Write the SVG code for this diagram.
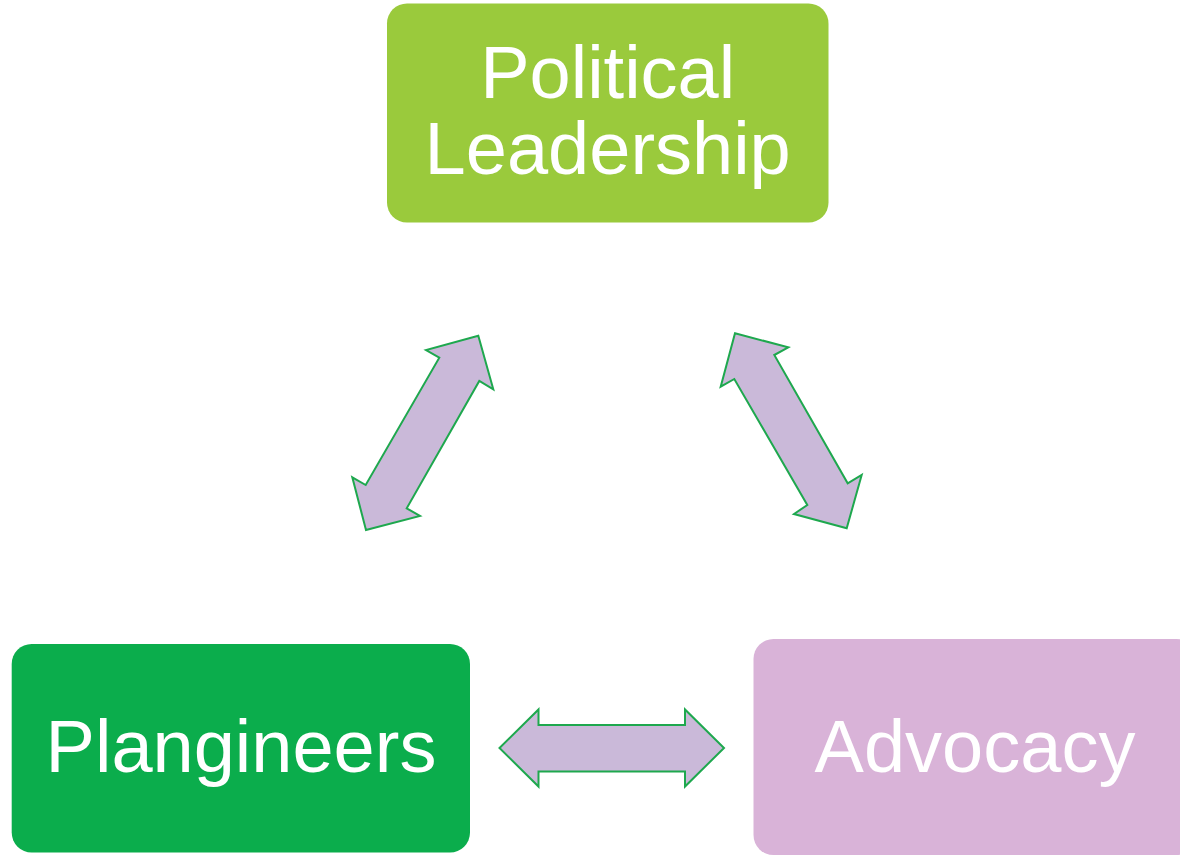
<svg xmlns="http://www.w3.org/2000/svg" width="1180" height="856" viewBox="0 0 1180 856">
<style>
.lbl{font-family:"Liberation Sans",Arial,sans-serif;font-size:74px;fill:#ffffff;text-anchor:middle}
.arr{fill:#CAB9D9;stroke:#1EA84E;stroke-width:2;stroke-linejoin:miter}
</style>
<rect width="1180" height="856" fill="#ffffff"/>
<g id="political-leadership">
<rect x="387" y="3.5" width="441.5" height="219" rx="20" fill="#9ACA3C"/>
<text class="lbl" x="607.7" y="97.7">Political</text>
<text class="lbl" x="607.7" y="174.3">Leadership</text>
</g>
<g id="plangineers">
<rect x="11.7" y="644" width="458.3" height="208.5" rx="20" fill="#0BAD4C"/>
<text class="lbl" x="241" y="771.7">Plangineers</text>
</g>
<g id="advocacy">
<rect x="753.5" y="639" width="443" height="216" rx="20" fill="#D9B3D8"/>
<text class="lbl" x="975" y="771.7">Advocacy</text>
</g>
<g id="connectors">
<polygon class="arr" points="478.3,335.7 493.3,389.3 479.3,381 406.7,508.3 420,516 366,530 352.3,477.3 365.7,485 439.3,357.7 426,350"/>
<polygon class="arr" points="735,333.3 788.3,347.3 774.3,355 847.7,483.3 861.7,475 846.7,528.3 794,514 807.3,505 734.3,379 720.7,386.7"/>
<polygon class="arr" points="499.5,748 538.5,709.5 538.5,725 685,725 685,709.5 724,748 685,786.5 685,771.5 538.5,771.5 538.5,786.5"/>
</g>
</svg>
